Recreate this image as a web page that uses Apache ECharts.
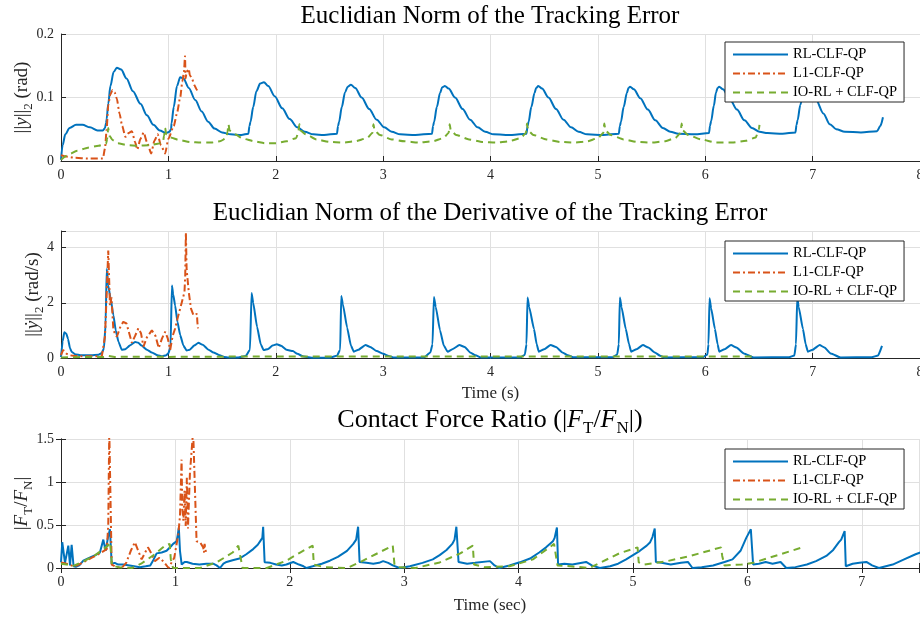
<!DOCTYPE html>
<html>
<head>
<meta charset="utf-8">
<script src="https://cdn.jsdelivr.net/npm/echarts@6/dist/echarts.min.js"></script>
<style>html,body{margin:0;padding:0;background:#fff}#main{width:920px;height:618px}</style>
</head>
<body>
<div id="main"></div>
<script>
  // series names (legend order)
  const seriesNames = ['RL-CLF-QP', 'L1-CLF-QP', 'IO-RL + CLF-QP'];

  // axis ticks
  const timeTicks = [0, 1, 2, 3, 4, 5, 6, 7, 8];
  const forceTimeTicks = [0, 1, 2, 3, 4, 5, 6, 7];
  const errTicks = [0, 0.1, 0.2];
  const derivTicks = [0, 2, 4];
  const ratioTicks = [0, 0.5, 1, 1.5];

  // panel 1 : ||y||_2 (rad)  [time, value]
  const errRL = [[0,0.002],[0.015,0.025],[0.04,0.042],[0.08,0.052],[0.14,0.057],[0.2,0.057],[0.27,0.053],[0.34,0.048],[0.39,0.048],[0.41,0.052],[0.42,0.06],[0.425,0.066],[0.44,0.09],[0.46,0.118],[0.49,0.14],[0.52,0.147],[0.56,0.144],[0.61,0.13],[0.67,0.11],[0.74,0.09],[0.8,0.072],[0.86,0.057],[0.92,0.048],[0.98,0.044],
    [1.01,0.046],[1.025,0.05],[1.03,0.06],[1.05,0.085],[1.08,0.118],[1.11,0.132],[1.14,0.13],[1.19,0.115],[1.25,0.096],[1.31,0.078],[1.37,0.062],[1.43,0.051],[1.5,0.045],[1.58,0.042],[1.68,0.041],[1.745,0.043],
    [1.755,0.055],[1.765,0.062],[1.79,0.085],[1.82,0.11],[1.855,0.122],[1.89,0.124],[1.93,0.118],[1.99,0.102],[2.06,0.083],[2.13,0.066],[2.2,0.053],[2.27,0.046],[2.35,0.042],[2.45,0.041],[2.57,0.043],
    [2.58,0.055],[2.59,0.062],[2.615,0.085],[2.645,0.108],[2.67,0.117],[2.7,0.12],[2.74,0.115],[2.8,0.1],[2.87,0.082],[2.94,0.065],[3.01,0.053],[3.08,0.046],[3.16,0.042],[3.3,0.041],[3.455,0.043],
    [3.465,0.055],[3.475,0.062],[3.5,0.085],[3.53,0.107],[3.55,0.116],[3.575,0.118],[3.61,0.114],[3.67,0.1],[3.74,0.082],[3.81,0.065],[3.88,0.053],[3.95,0.046],[4.03,0.042],[4.2,0.041],[4.335,0.043],
    [4.345,0.055],[4.355,0.062],[4.38,0.085],[4.41,0.107],[4.425,0.115],[4.445,0.118],[4.48,0.114],[4.54,0.1],[4.61,0.082],[4.68,0.065],[4.75,0.053],[4.82,0.046],[4.9,0.042],[5.05,0.041],[5.195,0.043],
    [5.205,0.055],[5.215,0.062],[5.24,0.085],[5.27,0.107],[5.285,0.115],[5.3,0.117],[5.335,0.113],[5.395,0.099],[5.465,0.081],[5.535,0.064],[5.605,0.052],[5.675,0.046],[5.75,0.043],[5.9,0.042],[6.035,0.044],
    [6.045,0.056],[6.055,0.063],[6.08,0.087],[6.1,0.108],[6.115,0.115],[6.13,0.117],[6.165,0.113],[6.225,0.099],[6.295,0.081],[6.365,0.064],[6.435,0.052],[6.505,0.046],[6.58,0.044],[6.72,0.043],[6.84,0.045],
    [6.85,0.057],[6.86,0.064],[6.885,0.088],[6.915,0.11],[6.93,0.117],[6.95,0.118],[6.985,0.112],[7.03,0.097],[7.1,0.075],[7.16,0.058],[7.22,0.05],[7.3,0.046],[7.45,0.045],[7.6,0.047],[7.63,0.055],[7.655,0.069]];
  const errL1 = [[0,0.009],[0.05,0.007],[0.13,0.005],[0.25,0.004],[0.39,0.004],[0.41,0.02],[0.425,0.05],[0.44,0.088],[0.46,0.105],[0.48,0.112],[0.5,0.108],[0.52,0.098],[0.545,0.075],[0.57,0.055],[0.6,0.038],[0.63,0.044],[0.66,0.047],[0.69,0.03],[0.71,0.018],[0.74,0.035],[0.77,0.045],[0.8,0.03],[0.84,0.012],[0.87,0.032],[0.9,0.042],[0.93,0.025],[0.97,0.012],[1.0,0.035],[1.05,0.055],[1.08,0.075],[1.11,0.1],[1.13,0.125],[1.145,0.14],[1.155,0.165],[1.16,0.13],[1.17,0.14],[1.19,0.145],[1.2,0.135],[1.22,0.13],[1.24,0.12],[1.266,0.112],[1.28,0.109]];
  const errIO = [[0,0.002],[0.07,0.01],[0.15,0.016],[0.25,0.021],[0.35,0.024],[0.42,0.027],[0.43,0.035],[0.44,0.052],[0.45,0.04],[0.48,0.033],[0.53,0.028],[0.62,0.025],[0.72,0.024],[0.82,0.025],[0.9,0.027],[0.95,0.03],[0.96,0.04],[0.97,0.052],[0.98,0.042],[1.02,0.037],[1.1,0.033],[1.2,0.03],[1.3,0.029],[1.4,0.029],[1.48,0.031],[1.54,0.036],[1.55,0.045],[1.56,0.058],[1.57,0.048],[1.62,0.042],[1.7,0.035],[1.8,0.031],[1.9,0.028],[2.0,0.028],[2.1,0.031],[2.19,0.036],[2.21,0.045],[2.22,0.058],[2.23,0.048],[2.28,0.042],[2.38,0.034],[2.5,0.03],[2.62,0.029],[2.74,0.031],[2.85,0.036],[2.9,0.044],[2.91,0.058],[2.92,0.048],[2.97,0.041],[3.08,0.034],[3.2,0.031],[3.33,0.029],[3.46,0.031],[3.56,0.036],[3.61,0.044],[3.62,0.058],[3.63,0.048],[3.68,0.041],[3.8,0.034],[3.93,0.03],[4.05,0.029],[4.17,0.031],[4.28,0.036],[4.33,0.044],[4.34,0.059],[4.35,0.048],[4.4,0.041],[4.52,0.034],[4.65,0.03],[4.78,0.029],[4.9,0.031],[5.0,0.036],[5.05,0.044],[5.06,0.059],[5.07,0.048],[5.12,0.041],[5.24,0.034],[5.37,0.03],[5.5,0.029],[5.62,0.031],[5.72,0.036],[5.77,0.044],[5.78,0.059],[5.79,0.048],[5.84,0.041],[5.96,0.034],[6.1,0.029],[6.25,0.029],[6.38,0.032],[6.47,0.037],[6.5,0.05],[6.505,0.057]];

  // panel 2 : ||dy||_2 (rad/s)
  const derivRL = [[0,0.03],[0.015,0.6],[0.031,0.93],[0.05,0.88],[0.065,0.7],[0.084,0.35],[0.1,0.22],[0.13,0.14],[0.19,0.1],[0.28,0.1],[0.35,0.12],[0.38,0.18],[0.4,0.35],[0.415,1.2],[0.426,3.23],[0.44,2.63],[0.46,2.2],[0.488,1.55],[0.51,1.0],[0.535,0.59],[0.566,0.3],[0.6,0.32],[0.64,0.45],[0.69,0.58],[0.72,0.55],[0.75,0.45],[0.8,0.3],[0.846,0.2],[0.9,0.1],[0.94,0.06],[0.98,0.1],[1.0,0.17],[1.02,0.4],[1.033,2.63],[1.045,2.3],[1.063,1.9],[1.085,1.3],[1.11,0.83],[1.14,0.45],[1.17,0.27],[1.2,0.3],[1.24,0.45],[1.28,0.55],[1.32,0.48],[1.374,0.3],[1.42,0.2],[1.47,0.11],[1.52,0.04],[1.56,0.02],[1.65,0.02],[1.72,0.07],[1.76,0.3],[1.775,2.35],[1.79,2.0],[1.826,1.13],[1.86,0.5],[1.887,0.29],[1.93,0.33],[1.97,0.45],[2.01,0.5],[2.05,0.44],[2.1,0.3],[2.16,0.25],[2.2,0.15],[2.26,0.05],[2.35,0.01],[2.5,0.01],[2.57,0.08],[2.6,0.3],[2.61,2.25],[2.625,1.95],[2.665,1.1],[2.7,0.45],[2.727,0.23],[2.77,0.3],[2.836,0.47],[2.88,0.4],[2.94,0.25],[3.0,0.15],[3.06,0.06],[3.1,0.02],[3.38,0.02],[3.44,0.2],[3.46,0.5],[3.473,2.21],[3.49,1.85],[3.53,1.0],[3.565,0.45],[3.6,0.23],[3.65,0.33],[3.71,0.47],[3.76,0.4],[3.81,0.2],[3.86,0.1],[3.91,0.02],[4.28,0.02],[4.32,0.12],[4.335,0.5],[4.345,2.19],[4.36,1.85],[4.405,1.05],[4.43,0.5],[4.45,0.23],[4.5,0.32],[4.56,0.47],[4.61,0.4],[4.67,0.2],[4.72,0.1],[4.77,0.03],[5.14,0.03],[5.18,0.13],[5.195,0.5],[5.205,2.19],[5.22,1.85],[5.26,1.05],[5.29,0.5],[5.31,0.23],[5.36,0.32],[5.42,0.47],[5.47,0.38],[5.53,0.2],[5.58,0.08],[5.62,0.02],[5.98,0.03],[6.02,0.13],[6.03,0.5],[6.04,2.16],[6.055,1.8],[6.09,1.05],[6.115,0.5],[6.13,0.23],[6.18,0.32],[6.24,0.47],[6.29,0.38],[6.36,0.16],[6.45,0.02],[6.78,0.03],[6.83,0.09],[6.845,0.5],[6.857,2.2],[6.87,1.85],[6.91,1.05],[6.935,0.5],[6.956,0.23],[7.0,0.3],[7.065,0.47],[7.11,0.38],[7.17,0.16],[7.26,0.02],[7.55,0.03],[7.61,0.09],[7.646,0.44]];
  const derivL1 = [[0,0.1],[0.02,0.29],[0.05,0.16],[0.08,0.1],[0.13,0.07],[0.25,0.06],[0.38,0.06],[0.41,0.8],[0.426,2.39],[0.44,3.89],[0.456,1.9],[0.47,2.2],[0.488,1.0],[0.52,0.77],[0.55,1.1],[0.58,1.31],[0.61,1.25],[0.66,0.55],[0.69,0.8],[0.72,1.07],[0.745,0.9],[0.768,0.41],[0.8,0.75],[0.846,1.0],[0.88,0.8],[0.91,0.36],[0.94,0.7],[0.97,0.95],[0.995,0.7],[1.017,0.3],[1.04,0.8],[1.063,1.07],[1.09,1.5],[1.126,2.03],[1.15,2.39],[1.157,3.0],[1.163,4.55],[1.17,3.2],[1.19,2.39],[1.21,1.8],[1.234,1.55],[1.25,1.6],[1.266,1.6],[1.27,1.3],[1.276,1.07]];
  const derivIO = [[0,0.02],[0.1,0.03],[0.4,0.04],[0.44,0.08],[0.5,0.04],[0.97,0.05],[1.0,0.04],[1.56,0.05],[2.22,0.05],[2.91,0.05],[3.62,0.05],[4.34,0.05],[5.06,0.05],[5.78,0.05],[6.47,0.05]];

  // panel 3 : |F_T / F_N|
  const ratioRL = [[0,0.065],[0.011,0.3],[0.035,0.06],[0.064,0.26],[0.079,0.03],[0.093,0.27],[0.11,0.02],[0.13,0.015],[0.16,0.03],[0.195,0.085],[0.25,0.12],[0.3,0.15],[0.34,0.18],[0.37,0.33],[0.39,0.2],[0.413,0.37],[0.428,0.45],[0.443,0.05],[0.47,0.06],[0.5,0.04],[0.545,0.04],[0.6,0.03],[0.69,0.01],[0.74,0.02],[0.78,0.03],[0.81,0.1],[0.836,0.17],[0.88,0.18],[0.923,0.2],[0.96,0.25],[0.98,0.28],[1.01,0.31],[1.02,0.38],[1.03,0.47],[1.04,0.2],[1.055,0.04],[1.08,0.07],[1.1,0.07],[1.15,0.05],[1.21,0.04],[1.27,0.05],[1.33,0.05],[1.36,0.03],[1.39,0.0],[1.42,0.05],[1.447,0.07],[1.5,0.09],[1.56,0.11],[1.62,0.16],[1.68,0.22],[1.72,0.27],[1.74,0.31],[1.76,0.35],[1.767,0.48],[1.78,0.066],[1.83,0.06],[1.88,0.04],[1.93,0.03],[1.97,0.04],[2.03,0.07],[2.08,0.04],[2.12,0.02],[2.146,0.0],[2.2,0.02],[2.28,0.05],[2.35,0.085],[2.42,0.13],[2.5,0.2],[2.555,0.28],[2.58,0.33],[2.597,0.48],[2.61,0.07],[2.67,0.06],[2.73,0.05],[2.78,0.06],[2.816,0.08],[2.86,0.06],[2.9,0.03],[2.96,0.0],[3.05,0.02],[3.16,0.06],[3.25,0.1],[3.31,0.15],[3.37,0.21],[3.42,0.28],[3.44,0.33],[3.456,0.48],[3.475,0.07],[3.55,0.05],[3.62,0.06],[3.75,0.08],[3.79,0.03],[3.83,0.0],[3.92,0.03],[4.01,0.066],[4.1,0.11],[4.18,0.18],[4.24,0.24],[4.3,0.31],[4.315,0.35],[4.335,0.47],[4.345,0.04],[4.4,0.05],[4.47,0.04],[4.59,0.07],[4.64,0.03],[4.71,0.0],[4.8,0.02],[4.87,0.05],[4.94,0.1],[5.0,0.15],[5.06,0.2],[5.12,0.26],[5.15,0.3],[5.17,0.36],[5.19,0.46],[5.2,0.07],[5.25,0.06],[5.33,0.04],[5.42,0.06],[5.48,0.07],[5.52,0.0],[5.6,0.01],[5.7,0.03],[5.8,0.07],[5.87,0.1],[5.94,0.2],[5.99,0.35],[6.03,0.45],[6.05,0.04],[6.1,0.05],[6.16,0.07],[6.22,0.05],[6.29,0.07],[6.34,0.0],[6.42,0.01],[6.52,0.04],[6.6,0.08],[6.69,0.14],[6.75,0.21],[6.8,0.3],[6.82,0.33],[6.85,0.43],[6.86,0.02],[6.92,0.05],[6.98,0.06],[7.04,0.07],[7.09,0.03],[7.15,0.0],[7.27,0.04],[7.37,0.1],[7.47,0.16],[7.55,0.2]];
  const ratioL1 = [[0,0.065],[0.05,0.05],[0.11,0.02],[0.14,0.03],[0.2,0.07],[0.27,0.12],[0.34,0.17],[0.4,0.22],[0.413,0.49],[0.422,1.6],[0.436,1.6],[0.443,0.04],[0.47,0.02],[0.53,0.0],[0.57,0.06],[0.61,0.2],[0.646,0.3],[0.675,0.2],[0.705,0.1],[0.735,0.18],[0.76,0.24],[0.79,0.17],[0.82,0.08],[0.86,0.12],[0.9,0.07],[0.94,0.0],[0.99,0.12],[1.025,0.39],[1.04,0.6],[1.054,1.26],[1.06,0.7],[1.07,0.55],[1.08,0.9],[1.09,0.49],[1.1,1.05],[1.11,0.46],[1.127,1.1],[1.14,1.12],[1.155,1.6],[1.17,1.6],[1.185,0.31],[1.2,0.33],[1.215,0.3],[1.243,0.24],[1.25,0.18],[1.255,0.28],[1.27,0.16]];
  const ratioIO = [[0,0.05],[0.05,0.04],[0.1,0.02],[0.2,0.08],[0.3,0.15],[0.41,0.26],[0.43,0.3],[0.445,0.03],[0.5,0.01],[0.62,0.0],[0.7,0.05],[0.82,0.16],[0.91,0.26],[0.95,0.28],[0.96,0.1],[0.98,0.0],[1.1,0.0],[1.215,0.0],[1.36,0.065],[1.5,0.18],[1.55,0.26],[1.56,0.24],[1.587,0.0],[1.8,0.0],[1.97,0.085],[2.09,0.18],[2.2,0.26],[2.21,0.04],[2.3,0.01],[2.5,0.0],[2.61,0.065],[2.75,0.16],[2.9,0.26],[2.915,0.04],[2.95,0.01],[3.1,0.0],[3.31,0.065],[3.49,0.17],[3.6,0.26],[3.61,0.04],[3.7,0.01],[3.92,0.02],[4.125,0.1],[4.27,0.24],[4.31,0.28],[4.34,0.03],[4.45,0.02],[4.62,0.0],[4.71,0.06],[4.88,0.17],[5.04,0.24],[5.05,0.065],[5.1,0.04],[5.3,0.08],[5.5,0.14],[5.77,0.24],[5.78,0.14],[5.8,0.03],[5.95,0.04],[6.05,0.06],[6.48,0.24]];

  const colors = ['#0072BD', '#D95319', '#77AC30'];
  const dashes = ['solid', [7, 3, 2, 3], [7, 5]];
  const serif = 'Liberation Serif';
  const ink = '#262626';

  let chart = echarts.init(document.getElementById('main'));

  // math-style axis names: subscript tokens sit lower in a taller line
  const mathRich = {
    n: { fontFamily: serif, fontSize: 19, fontWeight: 'normal', color: ink, lineHeight: 26, verticalAlign: 'middle' },
    i: { fontFamily: serif, fontSize: 19, fontWeight: 'normal', fontStyle: 'italic', color: ink, lineHeight: 26, verticalAlign: 'middle' },
    s: { fontFamily: serif, fontSize: 13, fontWeight: 'normal', color: ink, lineHeight: 13, verticalAlign: 'bottom' }
  };
  const titleRich = {
    n: { fontFamily: serif, fontSize: 26, fontWeight: 'normal', color: '#000', lineHeight: 34, verticalAlign: 'middle' },
    i: { fontFamily: serif, fontSize: 26, fontWeight: 'normal', fontStyle: 'italic', color: '#000', lineHeight: 34, verticalAlign: 'middle' },
    s: { fontFamily: serif, fontSize: 17, fontWeight: 'normal', color: '#000', lineHeight: 17, verticalAlign: 'bottom' }
  };

  let gridTops = [34, 231, 439];
  let gridHeights = [127, 127, 129];

  let xAxisFor = (g, ticks, max, name, gap) => ({
    type: 'value', gridIndex: g, min: ticks[0], max: max, interval: 1,
    name: name, nameLocation: 'middle', nameGap: gap, nameMoveOverlap: false,
    nameTextStyle: { fontFamily: serif, fontSize: 17, color: ink },
    axisLine: { onZero: false, lineStyle: { color: ink, width: 1 } },
    axisTick: { inside: true, length: 5, lineStyle: { color: ink } },
    axisLabel: { margin: 7, fontFamily: serif, fontSize: 14, color: ink,
      formatter: v => ticks.includes(v) ? String(v) : '' },
    splitLine: { show: true, lineStyle: { color: '#e0e0e0', width: 1 } }
  });

  let yAxisFor = (g, ticks, max, name, gap) => ({
    type: 'value', gridIndex: g, min: ticks[0], max: max, interval: ticks[1] - ticks[0],
    name: name, nameLocation: 'middle', nameGap: gap, nameRotate: 90, nameMoveOverlap: false,
    nameTextStyle: { fontFamily: serif, fontSize: 19, color: ink, rich: mathRich },
    axisLine: { onZero: false, lineStyle: { color: ink, width: 1 } },
    axisTick: { inside: true, length: 5, lineStyle: { color: ink } },
    axisLabel: { margin: 7, fontFamily: serif, fontSize: 14, color: ink,
      formatter: v => ticks.includes(+v.toFixed(3)) ? String(+v.toFixed(3)) : '' },
    splitLine: { show: true, lineStyle: { color: '#e0e0e0', width: 1 } }
  });

  let xAxes = [
    xAxisFor(0, timeTicks, 8, '', 20),
    xAxisFor(1, timeTicks, 8, 'Time (s)', 27),
    xAxisFor(2, forceTimeTicks, 7.5, 'Time (sec)', 29),
    // box top edge of the contact force panel
    { type: 'value', gridIndex: 2, position: 'top', min: 0, max: 7.5, interval: 1,
      axisLine: { lineStyle: { color: ink } }, axisTick: { inside: true, length: 5, lineStyle: { color: ink } },
      axisLabel: { show: false }, splitLine: { show: false } }
  ];
  let yAxes = [
    yAxisFor(0, errTicks, 0.2, '{n|||}{i|y}{n|||}{s|2}{n| (rad)}', 26),
    yAxisFor(1, derivTicks, 4.6, '{n|||}{i|ẏ}{n|||}{s|2}{n| (rad/s)}', 15),
    yAxisFor(2, ratioTicks, 1.5, '{n||}{i|F}{s|T}{n|/}{i|F}{s|N}{n||}', 26),
    { type: 'value', gridIndex: 2, position: 'right', min: 0, max: 1.5, interval: 0.5,
      axisLine: { lineStyle: { color: ink } }, axisTick: { inside: true, length: 5, lineStyle: { color: ink } },
      axisLabel: { show: false }, splitLine: { show: false } }
  ];

  let lineSeries = (k, data, idx, smooth) => ({
    type: 'line', name: seriesNames[k], data: data,
    xAxisIndex: idx, yAxisIndex: idx,
    symbol: 'none', showSymbol: false, smooth: smooth, smoothMonotone: 'x',
    lineStyle: { color: colors[k], width: 2, type: dashes[k] },
    itemStyle: { color: colors[k] },
    emphasis: { disabled: true }
  });

  let legendAt = (top) => ({
    data: seriesNames, orient: 'vertical', left: 725, top: top,
    itemWidth: 55, itemHeight: 14, itemGap: 4,
    padding: [5, 7, 2, 7],
    borderColor: ink, borderWidth: 1, backgroundColor: '#fff',
    itemStyle: { opacity: 0, color: 'rgba(0,0,0,0)', borderWidth: 0 },
    textStyle: { fontFamily: serif, fontSize: 14.5, color: '#000' }
  });

  let option = {
    animation: false,
    backgroundColor: '#fff',
    title: [
      { text: 'Euclidian Norm of the Tracking Error', left: 490, top: 4, textAlign: 'center', padding: 0,
        textStyle: { fontFamily: serif, fontSize: 25, fontWeight: 'normal', color: '#000' } },
      { text: 'Euclidian Norm of the Derivative of the Tracking Error', left: 490, top: 201, textAlign: 'center', padding: 0,
        textStyle: { fontFamily: serif, fontSize: 25, fontWeight: 'normal', color: '#000' } },
      { text: '{n|Contact Force Ratio (|}{i|F}{s|T}{n|/}{i|F}{s|N}{n||)}', left: 490, top: 403, textAlign: 'center', padding: 0,
        textStyle: { fontFamily: serif, fontSize: 26, fontWeight: 'normal', color: '#000', rich: titleRich } }
    ],
    legend: [legendAt(42), legendAt(241), legendAt(449)],
    grid: gridTops.map((t, i) => ({ left: 61, right: i === 2 ? 1 : 0, top: t, height: gridHeights[i], outerBoundsMode: 'none', containLabel: false })),
    xAxis: xAxes,
    yAxis: yAxes,
    series: [
      lineSeries(0, errRL, 0, 0.3),
      lineSeries(1, errL1, 0, 0.2),
      lineSeries(2, errIO, 0, 0.2),
      lineSeries(0, derivRL, 1, 0.15),
      lineSeries(1, derivL1, 1, false),
      lineSeries(2, derivIO, 1, false),
      lineSeries(0, ratioRL, 2, false),
      lineSeries(1, ratioL1, 2, false),
      lineSeries(2, ratioIO, 2, false)
    ]
  };

  chart.setOption(option);
</script>
</body>
</html>
